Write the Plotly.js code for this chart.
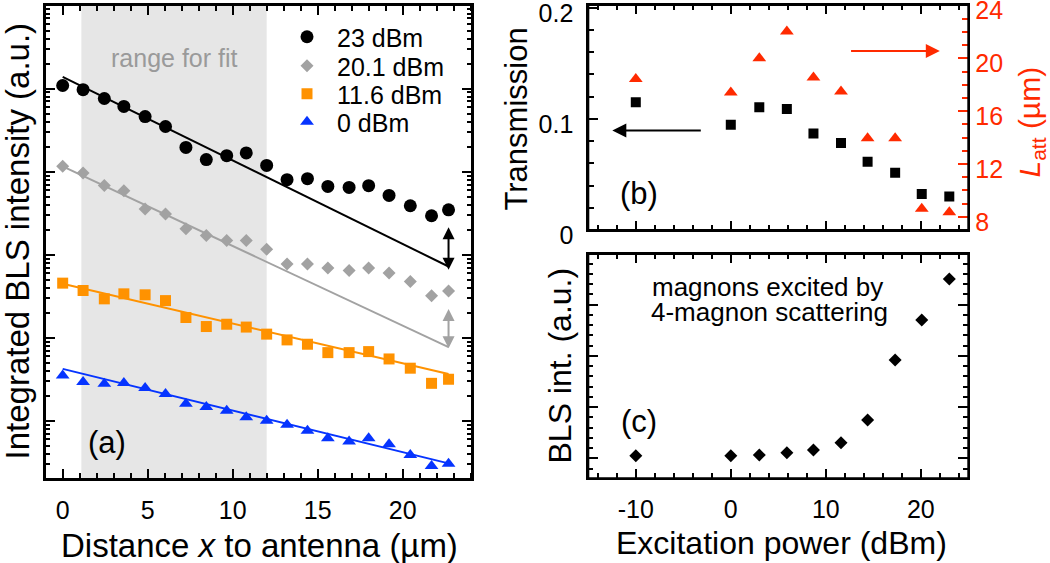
<!DOCTYPE html>
<html><head><meta charset="utf-8">
<script src="https://cdn.plot.ly/plotly-3.0.1.min.js"></script>
<style>html,body{margin:0;padding:0;background:#fff;}#chart{width:1050px;height:563px;}</style>
</head><body><div id="chart"></div>
<script>
// ---------- panel (a): BLS intensity vs distance ----------
const distance = [0, 1.2, 2.45, 3.6, 4.85, 6.05, 7.25, 8.45, 9.65, 10.8, 12, 13.2, 14.4, 15.6, 16.85, 18, 19.2, 20.45, 21.7, 22.7];
const int23dBm = [10900, 9700, 7600, 6100, 4600, 3500, 1960, 1400, 1560, 1680, 1190, 802, 824, 665, 647, 678, 518, 389, 295, 348];
const int20dBm = [1160, 964, 684, 590, 356, 309, 206, 171, 149, 149, 117, 77.3, 77.3, 69.2, 64.7, 69.2, 60.3, 47.6, 32.1, 36.8];
const int11dBm = [45.6, 37.2, 29.5, 33.9, 33.0, 28.1, 17.6, 13.7, 14.6, 13.5, 11.1, 9.46, 8.39, 6.65, 6.65, 6.84, 5.58, 4.32, 2.84, 3.18];
const int0dBm = [3.53, 2.94, 2.81, 2.86, 2.49, 2.12, 1.61, 1.47, 1.33, 1.11, 1.01, 0.90, 0.762, 0.621, 0.566, 0.621, 0.526, 0.391, 0.288, 0.305];
const fitX = [0, 22.7];
const fit23dBm = [13800, 72.3];
const fit20dBm = [1160, 7.73];
const fit11dBm = [44.8, 3.68];
const fit0dBm = [4.24, 0.309];
const seriesNames = ['23 dBm', '20.1 dBm', '11.6 dBm', '0 dBm'];
const fitRange = [1.1, 12.0];

// ---------- panels (b) and (c): vs excitation power ----------
const power = [-10, 0, 3, 5.9, 8.7, 11.6, 14.4, 17.3, 20.1, 23];
const transmission = [0.115, 0.0948, 0.1105, 0.1088, 0.0868, 0.0784, 0.0614, 0.0516, 0.0323, 0.0302];
const attLength = [18.45, 17.42, 20.02, 22.04, 18.55, 17.49, 13.95, 13.95, 8.61, 8.35];
const blsInt = [0.05, 0.05, 0.064, 0.109, 0.162, 0.305, 0.748, 1.92, 2.70, 3.50];
const powerTickVals = [-10, 0, 10, 20];
const powerTickText = ['-10', '0', '10', '20'];

const W = 1050, H = 563;
const fx = v => v / W, fy = v => 1 - v / H;
const FONT = 'Liberation Sans, Arial, Helvetica, sans-serif';
const C = {black: '#000000', gray: '#a2a2a2', orange: '#ff9200', blue: '#0634ff', red: '#ff2a00'};

const logMajor = [], logMinor = [];
for (let e = -1; e <= 5; e++) {
  logMajor.push(Math.pow(10, e));
  for (let m = 2; m <= 9; m++) logMinor.push(m * Math.pow(10, e));
}
const powerMinor = [];
for (let v = -14; v <= 24; v += 2) powerMinor.push(v);

const seriesY = [int23dBm, int20dBm, int11dBm, int0dBm];
const fitsY = [fit23dBm, fit20dBm, fit11dBm, fit0dBm];
const seriesColor = [C.black, C.gray, C.orange, C.blue];
const seriesSym = ['circle', 'diamond', 'square', 'triangle-up'];
const seriesSize = [13, 10, 11, 12];
const legendIds = ['legend', 'legend2', 'legend3', 'legend4'];

const traces = [];
for (let i = 0; i < 4; i++) {
  traces.push({x: fitX, y: fitsY[i], xaxis: 'x', yaxis: 'y', mode: 'lines',
    line: {color: seriesColor[i], width: 2}, showlegend: false, hoverinfo: 'skip'});
}
for (let i = 0; i < 4; i++) {
  traces.push({x: distance, y: seriesY[i], xaxis: 'x', yaxis: 'y', mode: 'markers',
    name: '\u2009\u2009' + seriesNames[i], legend: legendIds[i],
    marker: {symbol: seriesSym[i], size: seriesSize[i], color: seriesColor[i]}});
}
traces.push({x: power, y: transmission, xaxis: 'x2', yaxis: 'y2', mode: 'markers', showlegend: false,
  marker: {symbol: 'square', size: 10, color: C.black}});
traces.push({x: power, y: attLength, xaxis: 'x2', yaxis: 'y3', mode: 'markers', showlegend: false,
  marker: {symbol: 'triangle-up', size: 12, color: C.red}});
traces.push({x: power, y: blsInt, xaxis: 'x3', yaxis: 'y4', mode: 'markers', showlegend: false,
  marker: {symbol: 'diamond', size: 10, color: C.black}});

const tickFont = {family: FONT, size: 25, color: '#000'};
const base = {showline: true, linewidth: 2, linecolor: '#000', ticks: 'inside', tickwidth: 2,
  tickcolor: '#000', showgrid: false, zeroline: false, automargin: false, fixedrange: true, tickfont: tickFont};

function legendAt(xp, yp) {
  return {x: fx(xp), y: fy(yp), xanchor: 'left', yanchor: 'middle', bgcolor: 'rgba(0,0,0,0)',
    borderwidth: 0, font: {family: FONT, size: 25, color: '#000'}, itemclick: false, itemdoubleclick: false};
}
function label(xp, yp, text, size, extra) {
  return Object.assign({xref: 'paper', yref: 'paper', x: fx(xp), y: fy(yp), xanchor: 'center', yanchor: 'middle',
    text: text, showarrow: false, font: {family: FONT, size: size, color: '#000'}}, extra || {});
}

const annotations = [
  {xref: 'x', yref: 'y', axref: 'x', ayref: 'y', x: 22.7, y: Math.log10(66), ax: 22.7, ay: Math.log10(223),
    text: '', showarrow: true, arrowside: 'end+start', arrowhead: 2, startarrowhead: 2, arrowsize: 1.2,
    startarrowsize: 1.2, arrowwidth: 2, arrowcolor: C.black, standoff: 0, startstandoff: 0},
  {xref: 'x', yref: 'y', axref: 'x', ayref: 'y', x: 22.7, y: Math.log10(7.5), ax: 22.7, ay: Math.log10(23.2),
    text: '', showarrow: true, arrowside: 'end+start', arrowhead: 2, startarrowhead: 2, arrowsize: 1.2,
    startarrowsize: 1.2, arrowwidth: 2, arrowcolor: C.gray, standoff: 0, startstandoff: 0},
  {xref: 'x2', yref: 'y2', axref: 'x2', ayref: 'y2', x: 22.0, y: 0.161, ax: 12.5, ay: 0.161,
    text: '', showarrow: true, arrowhead: 2, arrowsize: 1.4, arrowwidth: 2, arrowcolor: C.red, standoff: 0},
  {xref: 'x2', yref: 'y2', axref: 'x2', ayref: 'y2', x: -12.47, y: 0.0895, ax: -3.0, ay: 0.0895,
    text: '', showarrow: true, arrowhead: 2, arrowsize: 1.4, arrowwidth: 2, arrowcolor: C.black, standoff: 0},
  {xref: 'x', yref: 'paper', x: 6.6, y: fy(58), xanchor: 'center', yanchor: 'middle', text: 'range for fit',
    showarrow: false, font: {family: FONT, size: 25, color: '#9a9a9a'}},
  label(107, 442, '(a)', 31),
  label(639, 193, '(b)', 31),
  label(639, 421, '(c)', 31),
  label(650, 287, 'magnons excited by', 26, {xanchor: 'left'}),
  label(649, 312, '4-magnon scattering', 26, {xanchor: 'left'}),
  label(17, 241.5, 'Integrated BLS intensity (a.u.)', 33, {textangle: -90}),
  label(259.5, 545, 'Distance <i>x</i> to antenna (µm)', 33),
  label(516, 119.5, 'Transmission', 31, {textangle: -90}),
  label(1031, 122.5, '<i>L</i><sub>att</sub> (µm)', 30, {textangle: -90, font: {family: FONT, size: 30, color: C.red}}),
  label(559, 365.5, 'BLS int. (a.u.)', 32, {textangle: -90}),
  label(781.7, 543, 'Excitation power (dBm)', 32)
];

function frame(xr, yr) {
  return {type: 'rect', layer: 'above', xref: xr + ' domain', yref: yr + ' domain', x0: 0, x1: 1, y0: 0, y1: 1,
    fillcolor: 'rgba(0,0,0,0)', line: {color: '#000', width: 2}};
}

const layout = {
  width: W, height: H, autosize: false,
  margin: {l: 0, r: 0, t: 0, b: 0, pad: 0},
  paper_bgcolor: '#fff', plot_bgcolor: 'rgba(0,0,0,0)',
  font: {family: FONT, color: '#000'},
  showlegend: true,
  legend: legendAt(287, 37), legend2: legendAt(287, 66), legend3: legendAt(287, 94), legend4: legendAt(287, 122),
  xaxis: Object.assign({}, base, {domain: [fx(45), fx(472)], anchor: 'y', range: [-1.04, 24.08],
    mirror: 'ticks', tick0: 0, dtick: 5, ticklen: 10, ticklabelstandoff: 8,
    minor: {ticks: 'inside', tick0: 0, dtick: 1, ticklen: 6, tickwidth: 2, tickcolor: '#000'}}),
  yaxis: Object.assign({}, base, {domain: [fy(479), fy(5)], anchor: 'x', type: 'log', range: [-0.698, 5.006],
    mirror: 'ticks', tickmode: 'array', tickvals: logMajor, ticklen: 10, showticklabels: false,
    minor: {ticks: 'inside', tickmode: 'array', tickvals: logMinor, ticklen: 5, tickwidth: 2, tickcolor: '#000'}}),
  xaxis2: Object.assign({}, base, {domain: [fx(588.3), fx(968.3)], anchor: 'y2', range: [-15, 25],
    mirror: 'ticks', tickmode: 'array', tickvals: powerTickVals, ticklen: 9, showticklabels: false,
    minor: {ticks: 'inside', tickmode: 'array', tickvals: powerMinor, ticklen: 5, tickwidth: 2, tickcolor: '#000'}}),
  yaxis2: Object.assign({}, base, {domain: [fy(230), fy(5)], anchor: 'x2', range: [0, 0.2025],
    mirror: true, tick0: 0, dtick: 0.1, ticklen: 10, ticklabelstandoff: 8, ticklabelshift: 5,
    ticklabeloverflow: 'allow',
    minor: {ticks: 'inside', tick0: 0, dtick: 0.02, ticklen: 6, tickwidth: 2, tickcolor: '#000'}}),
  yaxis3: Object.assign({}, base, {overlaying: 'y2', anchor: 'x2', side: 'right', range: [7, 24.05],
    showline: false, tick0: 0, dtick: 4, ticklen: 10, tickcolor: C.red, ticklabelstandoff: 6, ticklabelshift: 5,
    ticklabeloverflow: 'allow',
    tickfont: {family: FONT, size: 25, color: C.red},
    minor: {ticks: 'inside', tick0: 0, dtick: 1, ticklen: 6, tickwidth: 2, tickcolor: C.red}}),
  xaxis3: Object.assign({}, base, {domain: [fx(588.3), fx(968.3)], anchor: 'y4', range: [-15, 25],
    mirror: 'ticks', tickmode: 'array', tickvals: powerTickVals, ticktext: powerTickText, ticklen: 9,
    ticklabelstandoff: 8,
    minor: {ticks: 'inside', tickmode: 'array', tickvals: powerMinor, ticklen: 5, tickwidth: 2, tickcolor: '#000'}}),
  yaxis4: Object.assign({}, base, {domain: [fy(478.3), fy(254)], anchor: 'x3', range: [-0.39, 3.99],
    mirror: 'ticks', tick0: 0, dtick: 1, ticklen: 10, showticklabels: false,
    minor: {ticks: 'inside', tick0: 0, dtick: 0.2, ticklen: 5, tickwidth: 2, tickcolor: '#000'}}),
  shapes: [
    {type: 'rect', layer: 'below', xref: 'x', yref: 'y domain', x0: fitRange[0], x1: fitRange[1],
      y0: 0, y1: 1, fillcolor: '#e6e6e6', line: {width: 0}},
    frame('x', 'y'), frame('x2', 'y2'), frame('x3', 'y4')
  ],
  annotations: annotations
};

Plotly.newPlot('chart', traces, layout, {staticPlot: true, displayModeBar: false});
</script>
</body></html>
